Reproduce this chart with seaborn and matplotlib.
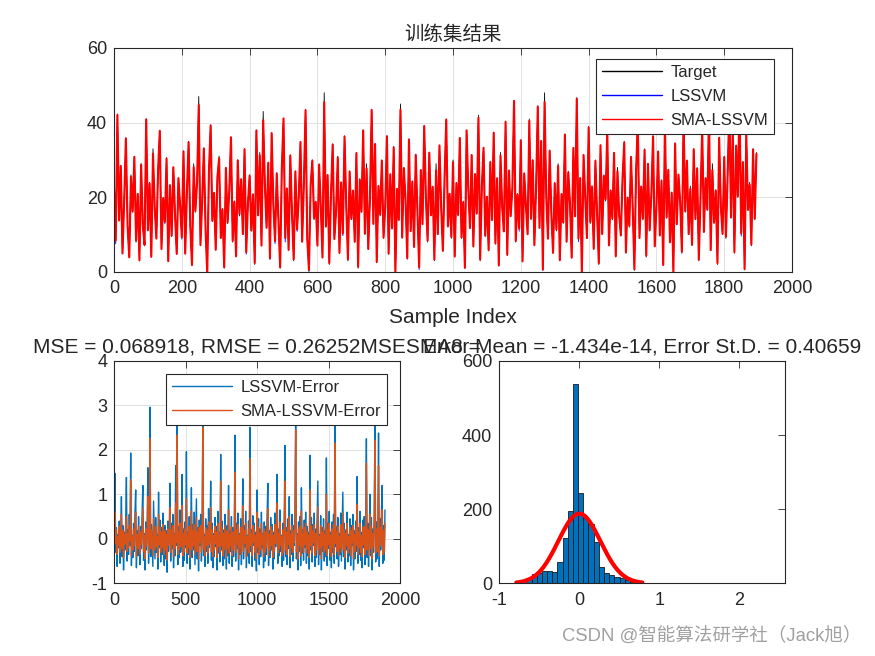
import matplotlib

matplotlib.use("Agg")
import matplotlib.pyplot as plt
import numpy as np
import pandas as pd
import seaborn as sns

# ---- data (one value every 5 samples) ----
target = [
    22, 9, 42, 14, 28, 5, 19, 36, 12, 4, 26, 16, 31, 8, 21, 3, 29, 13, 7, 41,
    11, 24, 4, 33, 17, 9, 27, 38, 6, 20, 14, 30, 3, 23, 10, 28, 15, 5, 25, 18,
    10, 32, 5, 21, 35, 12, 2, 29, 16, 24, 47, 7, 19, 33, 11, 0, 27, 39, 14, 21,
    6, 25, 31, 9, 17, 1, 28, 13, 22, 36, 8, 19, 4, 30, 15, 25, 10, 33, 6, 18,
    26, 11, 21, 2, 38, 15, 32, 7, 43, 23, 12, 29, 4, 37, 18, 9, 26, 14, 1, 28,
    41, 10, 22, 6, 31, 16, 3, 27, 12, 20, 35, 8, 24, 43, 9, 1, 23, 30, 14, 19,
    7, 29, 17, 4, 48, 12, 26, 2, 21, 34, 9, 16, 31, 5, 24, 11, 36, 18, 3, 27,
    14, 22, 8, 32, 1, 25, 16, 38, 10, 29, 6, 20, 43, 13, 34, 3, 23, 15, 30, 9,
    18, 36, 5, 26, 12, 33, 0, 22, 14, 45, 9, 28, 19, 4, 35, 11, 24, 7, 31, 16,
    2, 27, 13, 39, 20, 8, 32, 15, 23, 3, 29, 10, 34, 17, 6, 25, 41, 12, 21, 9,
    30, 4, 24, 15, 36, 9, 19, 1, 38, 22, 12, 31, 7, 26, 16, 42, 3, 23, 33, 10,
    20, 6, 29, 14, 37, 8, 25, 2, 32, 17, 11, 40, 5, 27, 15, 22, 46, 8, 21, 13,
    35, 3, 26, 18, 10, 41, 14, 30, 7, 23, 44, 12, 35, 1, 48, 20, 9, 32, 16, 5,
    24, 11, 29, 3, 21, 13, 37, 8, 27, 18, 4, 33, 15, 46, 10, 25, 0, 31, 20, 9,
    39, 13, 23, 6, 30, 16, 2, 34, 10, 26, 19, 38, 7, 22, 14, 32, 4, 28, 15, 10,
    25, 35, 5, 20, 12, 31, 17, 1, 27, 42, 9, 23, 14, 33, 4, 29, 11, 21, 36, 7,
    18, 32, 10, 24, 2, 39, 15, 27, 8, 21, 0, 34, 13, 26, 19, 5, 41, 16, 30, 10,
    23, 7, 33, 14, 28, 3, 20, 38, 11, 25, 17, 43, 6, 29, 13, 22, 2, 36, 18, 10,
    31, 9, 26, 44, 15, 40, 5, 34, 20, 46, 12, 29, 1, 37, 17, 24, 7, 33, 14, 32,
]

err_lssvm = [
    -0.45, 1.47, -0.30, 0.25, -0.62, 0.10, -0.20, 0.40, -0.55, 0.05, 0.95, -0.40, 0.30, -0.70, 0.15, -0.25, 0.45, 1.38, -0.50, 0.20,
    -0.35, 0.55, -0.15, 1.93, -0.60, 0.08, -0.42, 0.35, -0.28, 0.60, 1.10, -0.65, 0.18, -0.38, 0.50, -0.10, -0.58, 0.28, -0.22, 0.62,
    1.20, -0.48, 0.12, -0.70, 0.38, -0.25, 0.22, 1.60, -0.55, 0.05, 2.96, -0.40, 0.32, -0.18, -0.62, 0.85, 0.15, -0.45, 0.48, -0.30,
    0.10, -0.68, 1.05, -0.20, 0.42, -0.52, 0.25, -0.35, 0.58, -0.12, -0.60, 0.30, -0.45, 0.18, -0.75, 0.40, -0.28, 0.20, 1.25, -0.50,
    0.35, -0.22, 0.55, -0.65, 0.12, -0.38, 1.65, -0.15, 2.75, -0.58, 0.28, -0.42, 0.65, -0.30, 0.05, 1.45, -0.62, 0.22, -0.48, 0.38,
    -0.20, 1.96, -0.55, 0.15, -0.35, 0.50, -0.68, 0.08, 1.15, -0.42, 0.32, -0.25, 0.60, -0.58, 0.18, 0.90, -0.45, 0.25, -0.72, 0.42,
    -0.15, 0.55, -0.50, 0.20, 2.80, -0.38, 0.10, -0.62, 0.45, -0.28, 0.30, -0.55, 0.68, -0.20, 0.05, 1.30, -0.48, 0.35, -0.65, 0.12,
    -0.40, 0.48, -0.18, 0.28, -0.70, 0.62, -0.32, 0.15, -0.52, 1.90, -0.25, 0.40, -0.60, 0.20, -0.45, 0.55, -0.12, -0.68, 0.30, -0.38,
    1.20, -0.55, 0.18, -0.28, 0.50, -0.62, 0.25, -0.40, 0.10, 2.33, -0.50, 0.35, -0.22, 0.58, -0.70, 0.12, -0.35, 0.45, -0.58, 0.22,
    1.35, -0.45, 0.30, -0.18, 0.62, -0.65, 0.08, -0.38, 0.40, -0.55, 2.51, -0.28, 0.20, -0.62, 0.52, -0.15, 0.35, -0.48, 0.15, -0.72,
    1.10, -0.30, 0.45, -0.58, 0.22, -0.40, 0.60, -0.20, 0.12, -0.65, 0.38, -0.50, 0.28, -0.35, 0.55, 1.25, -0.60, 0.18, -0.42, 0.48,
    -0.25, 0.32, -0.68, 0.15, -0.45, 0.58, -0.18, 0.40, 1.45, -0.55, 0.22, -0.38, 0.65, -0.28, 0.08, -0.62, 0.35, -0.48, 0.50, 2.10,
    -0.40, 0.25, -0.58, 0.45, -0.22, 0.95, -0.65, 0.18, -0.35, 0.55, -0.50, 0.30, -0.15, 0.62, 2.80, -0.45, 0.12, -0.70, 0.38, -0.28,
    0.50, -0.60, 1.15, -0.32, 0.20, -0.48, 0.42, -0.20, 0.60, -0.55, 0.28, -0.38, 0.15, -0.68, 1.88, -0.25, 0.48, -0.52, 0.32, -0.15,
    0.58, -0.62, 0.22, -0.42, 0.40, 1.30, -0.58, 0.10, -0.35, 0.52, -0.70, 0.25, -0.28, 0.45, -0.50, 0.18, -0.40, 1.82, -0.60, 0.35,
    -0.22, 0.62, -0.48, 0.15, -0.65, 0.38, -0.30, 0.55, -0.55, 2.70, -0.18, 0.28, -0.45, 0.48, -0.62, 0.12, -0.35, 0.58, -0.50, 0.22,
    1.05, -0.40, 0.35, -0.68, 0.20, -0.25, 0.60, -0.52, 0.10, -0.38, 0.45, -0.60, 0.30, -0.15, 0.55, -0.70, 0.18, -0.45, 0.40, -0.28,
    1.40, -0.55, 0.25, -0.35, 0.62, -0.48, 0.15, -0.65, 0.42, -0.20, 0.50, -0.58, 0.28, 2.25, -0.42, 0.35, -0.62, 0.12, 1.00, -0.38,
    0.48, -0.70, 0.22, -0.30, 0.60, 2.60, -0.52, 0.38, -0.45, 0.15, 2.38, -0.62, 0.45, -0.25, 0.58, 1.20, -0.55, 0.30, -0.48, 0.65,
]

err_sma = [
    -0.25, 0.60, -0.10, 0.20, -0.35, 0.05, -0.15, 0.28, -0.30, 0.08, 0.55, -0.22, 0.18, -0.42, 0.10, -0.12, 0.25, 0.50, -0.28, 0.12,
    -0.20, 0.30, -0.05, 1.33, -0.38, 0.05, -0.25, 0.22, -0.15, 0.32, 0.60, -0.40, 0.10, -0.22, 0.28, -0.05, -0.35, 0.15, -0.12, 0.30,
    0.70, -0.28, 0.08, -0.45, 0.22, -0.15, 0.12, 0.95, -0.32, 0.02, 2.25, -0.22, 0.20, -0.10, -0.38, 0.45, 0.08, -0.25, 0.28, -0.18,
    0.05, -0.42, 0.55, -0.12, 0.25, -0.30, 0.15, -0.20, 0.32, -0.08, -0.35, 0.18, -0.25, 0.10, -0.48, 0.22, -0.15, 0.12, 0.70, -0.30,
    0.20, -0.12, 0.30, -0.40, 0.08, -0.22, 0.80, -0.08, 2.33, -0.35, 0.15, -0.25, 0.35, -0.18, 0.02, 0.75, -0.38, 0.12, -0.28, 0.22,
    -0.12, 0.90, -0.32, 0.08, -0.20, 0.28, -0.42, 0.05, 0.62, -0.25, 0.18, -0.15, 0.32, -0.35, 0.10, 0.48, -0.28, 0.15, -0.45, 0.25,
    -0.08, 0.30, -0.30, 0.12, 2.50, -0.22, 0.05, -0.38, 0.25, -0.15, 0.18, -0.32, 0.38, -0.12, 0.02, 0.70, -0.28, 0.20, -0.40, 0.08,
    -0.25, 0.28, -0.10, 0.15, -0.42, 0.35, -0.18, 0.08, -0.30, 1.30, -0.15, 0.22, -0.38, 0.12, -0.25, 0.30, -0.05, -0.42, 0.18, -0.22,
    0.65, -0.32, 0.10, -0.15, 0.28, -0.38, 0.15, -0.25, 0.05, 1.50, -0.30, 0.20, -0.12, 0.32, -0.45, 0.08, -0.20, 0.25, -0.35, 0.12,
    0.75, -0.28, 0.18, -0.10, 0.35, -0.40, 0.05, -0.22, 0.22, -0.32, 1.80, -0.15, 0.12, -0.38, 0.30, -0.08, 0.20, -0.30, 0.08, -0.45,
    0.60, -0.18, 0.25, -0.35, 0.12, -0.25, 0.35, -0.12, 0.08, -0.40, 0.22, -0.30, 0.15, -0.20, 0.30, 0.68, -0.38, 0.10, -0.25, 0.28,
    -0.15, 0.18, -0.42, 0.08, -0.28, 0.32, -0.10, 0.22, 0.80, -0.32, 0.12, -0.22, 0.38, -0.15, 0.05, -0.38, 0.20, -0.30, 0.28, 1.30,
    -0.25, 0.15, -0.35, 0.25, -0.12, 0.50, -0.40, 0.10, -0.20, 0.30, -0.30, 0.18, -0.08, 0.35, 2.45, -0.28, 0.08, -0.45, 0.22, -0.15,
    0.28, -0.38, 0.62, -0.18, 0.12, -0.30, 0.25, -0.12, 0.35, -0.32, 0.15, -0.22, 0.08, -0.42, 1.10, -0.15, 0.28, -0.32, 0.18, -0.08,
    0.32, -0.38, 0.12, -0.25, 0.22, 0.72, -0.35, 0.05, -0.20, 0.30, -0.45, 0.15, -0.15, 0.25, -0.30, 0.10, -0.25, 1.00, -0.38, 0.20,
    -0.12, 0.35, -0.30, 0.08, -0.40, 0.22, -0.18, 0.32, -0.35, 2.15, -0.10, 0.15, -0.28, 0.28, -0.38, 0.05, -0.20, 0.32, -0.30, 0.12,
    0.58, -0.25, 0.20, -0.42, 0.12, -0.15, 0.35, -0.32, 0.05, -0.22, 0.25, -0.38, 0.18, -0.08, 0.30, -0.45, 0.10, -0.28, 0.22, -0.15,
    0.78, -0.35, 0.15, -0.20, 0.35, -0.30, 0.08, -0.40, 0.25, -0.12, 0.28, -0.35, 0.15, 1.70, -0.25, 0.20, -0.38, 0.05, 0.55, -0.22,
    0.28, -0.45, 0.12, -0.18, 0.35, 2.22, -0.32, 0.22, -0.28, 0.08, 1.65, -0.38, 0.25, -0.15, 0.32, 0.65, -0.35, 0.18, -0.30, 0.35,
]

# histogram of the error (bin counts)
hist_counts = [
    13, 24, 29, 33, 33, 30, 58, 122, 195, 538, 244, 175, 160, 112, 45, 29, 22, 18, 13, 8,
    4, 0, 0, 2, 1, 0, 0, 0, 1, 1, 0, 0, 0, 0, 0, 0, 1, 0, 0, 0,
    0, 0, 0, 0, 1, 0, 0, 0, 0, 0,
]
hist_start = -0.662
hist_width = 0.0647
fit_mean = -1.434e-14
fit_sigma = 0.26252

title_top = "训练集结果"
title_err = "MSE = 0.068918, RMSE = 0.26252MSESMA8 ="
title_hist = "Error Mean = -1.434e-14, Error St.D. = 0.40659"
watermark = "CSDN @智能算法研学社（Jack旭）"

# ---- style (MATLAB-like) ----
sns.set_style("white")
plt.rcParams["font.family"] = ["Liberation Sans", "Noto Sans CJK SC", "DejaVu Sans"]
plt.rcParams["axes.unicode_minus"] = False
plt.rcParams["axes.edgecolor"] = "#262626"
plt.rcParams["axes.linewidth"] = 0.8
plt.rcParams["xtick.color"] = "#262626"
plt.rcParams["ytick.color"] = "#262626"
plt.rcParams["xtick.direction"] = "in"
plt.rcParams["ytick.direction"] = "in"
plt.rcParams["xtick.labelsize"] = 13
plt.rcParams["ytick.labelsize"] = 13

C_BLUE = "#0072BD"
C_ORANGE = "#D95319"


def matlab_box(ax, grid=True):
    ax.tick_params(axis="x", top=True, length=5, width=0.6, pad=6)
    ax.tick_params(axis="y", right=True, length=5, width=0.6, pad=5)
    for s in ax.spines.values():
        s.set_visible(True)
        s.set_color("#262626")
    if grid:
        ax.grid(True, color="#dcdcdc", linewidth=0.6)
        ax.set_axisbelow(True)


def matlab_legend(ax, anchor):
    leg = ax.legend(
        loc="upper right",
        bbox_to_anchor=anchor,
        borderaxespad=0,
        fancybox=False,
        framealpha=1,
        edgecolor="#262626",
        fontsize=12,
        handlelength=3.6,
        handletextpad=0.5,
        labelspacing=0.55,
        borderpad=0.35,
    )
    leg.get_frame().set_linewidth(0.8)
    for line in leg.get_lines():
        line.set_linewidth(1.0)


fig = plt.figure(figsize=(8.75, 6.56), dpi=100)

idx = np.arange(len(target)) * 5
target_arr = np.array(target, dtype=float)
pred_lssvm = target_arr - np.array(err_lssvm)
pred_sma = target_arr - np.array(err_sma)

# 1. training set result
ax1 = fig.add_axes([0.1303, 0.5854, 0.7749, 0.3415])
sns.lineplot(x=idx, y=target_arr, color="black", lw=0.6, label="Target",
             estimator=None, sort=False, ax=ax1)
sns.lineplot(x=idx, y=pred_lssvm, color="blue", lw=0.6, label="LSSVM",
             estimator=None, sort=False, ax=ax1)
sns.lineplot(x=idx, y=pred_sma, color="red", lw=1.5, label="SMA-LSSVM",
             estimator=None, sort=False, ax=ax1)
ax1.set_xlim(0, 2000)
ax1.set_ylim(0, 60)
ax1.set_xticks(np.arange(0, 2001, 200))
ax1.set_yticks([0, 20, 40, 60])
ax1.set_xlabel("Sample Index", fontsize=15, color="#262626", labelpad=8)
ax1.set_title(title_top, fontsize=14, pad=6)
matlab_box(ax1)
matlab_legend(ax1, (0.9735, 0.951))

# 2. error curves
ax2 = fig.add_axes([0.1306, 0.1108, 0.3265, 0.3389])
sns.lineplot(x=idx, y=err_lssvm, color=C_BLUE, lw=1.0, label="LSSVM-Error",
             estimator=None, sort=False, ax=ax2)
sns.lineplot(x=idx, y=err_sma, color=C_ORANGE, lw=1.0, label="SMA-LSSVM-Error",
             estimator=None, sort=False, ax=ax2)
ax2.set_xlim(0, 2000)
ax2.set_ylim(-1, 4)
ax2.set_xticks([0, 500, 1000, 1500, 2000])
ax2.set_yticks([-1, 0, 1, 2, 3, 4])
ax2.set_xlabel("")
ax2.set_title(title_err, fontsize=15, pad=6)
matlab_box(ax2)
matlab_legend(ax2, (0.9545, 0.9415))

# 3. error histogram with normal fit
ax3 = fig.add_axes([0.5706, 0.1108, 0.3269, 0.3389])
edges = hist_start + hist_width * np.arange(len(hist_counts) + 1)
hist_df = pd.DataFrame({
    "center": (edges[:-1] + edges[1:]) / 2,
    "count": hist_counts,
})
sns.histplot(data=hist_df, x="center", weights="count", bins=edges.tolist(),
             color=C_BLUE, alpha=1, edgecolor="#1a1a1a", linewidth=0.6, ax=ax3)
xs = np.linspace(fit_mean - 3 * fit_sigma, fit_mean + 3 * fit_sigma, 200)
scale = np.sum(hist_counts) * hist_width
ys = scale * np.exp(-0.5 * ((xs - fit_mean) / fit_sigma) ** 2) / (fit_sigma * np.sqrt(2 * np.pi))
sns.lineplot(x=xs, y=ys, color="red", lw=3, estimator=None, sort=False, ax=ax3)
ax3.set_xlim(-1, edges[-1])
ax3.set_ylim(0, 600)
ax3.set_xticks([-1, 0, 1, 2])
ax3.set_yticks([0, 200, 400, 600])
ax3.set_xlabel("")
ax3.set_ylabel("")
ax3.set_title(title_hist, fontsize=15, pad=6)
matlab_box(ax3, grid=False)

fig.text(0.985, 0.029, watermark, ha="right", va="center", fontsize=13.3,
         color="#a0a0a0", family=["Liberation Sans", "Noto Sans CJK SC"])

fig.savefig("out.png", dpi=100)
